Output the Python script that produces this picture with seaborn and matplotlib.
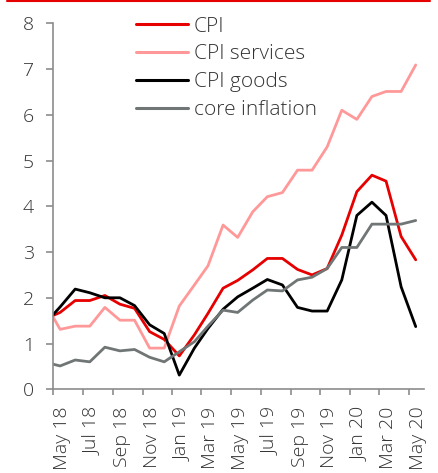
import pandas as pd
import matplotlib
matplotlib.use("Agg")
import matplotlib.pyplot as plt
import matplotlib.dates as mdates
from matplotlib.lines import Line2D
import seaborn as sns

# monthly readings, Apr 18 .. May 20 (Apr 18 is clipped by the axis)
months = pd.date_range("2018-04-01", "2020-05-01", freq="MS") + pd.Timedelta(days=14)

cpi = [1.54, 1.68, 1.94, 1.94, 2.05, 1.86, 1.77, 1.26, 1.09, 0.73, 1.19, 1.66, 2.21,
       2.38, 2.61, 2.86, 2.86, 2.62, 2.50, 2.64, 3.37, 4.32, 4.68, 4.55, 3.34, 2.83]
cpi_services = [1.87, 1.31, 1.38, 1.38, 1.79, 1.51, 1.51, 0.90, 0.90, 1.82, 2.28, 2.70, 3.59,
                3.32, 3.88, 4.21, 4.30, 4.79, 4.79, 5.30, 6.10, 5.90, 6.40, 6.51, 6.51, 7.09]
cpi_goods = [1.45, 1.80, 2.19, 2.11, 2.00, 2.00, 1.83, 1.41, 1.22, 0.31, 0.90, 1.33, 1.75,
             2.02, 2.21, 2.40, 2.28, 1.79, 1.71, 1.71, 2.39, 3.80, 4.09, 3.80, 2.24, 1.37]
core = [0.59, 0.51, 0.64, 0.60, 0.92, 0.84, 0.87, 0.70, 0.60, 0.82, 1.04, 1.38, 1.73,
        1.68, 1.95, 2.17, 2.15, 2.39, 2.45, 2.64, 3.10, 3.10, 3.61, 3.61, 3.61, 3.69]

series_names = ["CPI", "CPI services", "CPI goods", "core inflation"]
colors = ["#e60000", "#ff9999", "#000000", "#707575"]

df = pd.DataFrame({"date": months, "CPI": cpi, "CPI services": cpi_services,
                   "CPI goods": cpi_goods, "core inflation": core})
long = df.melt(id_vars="date", var_name="series", value_name="value")

sns.set_style("white")
plt.rcParams["font.family"] = ["Open Sans", "DejaVu Sans"]
plt.rcParams["font.weight"] = "light"

fig = plt.figure(figsize=(4.38, 4.73), dpi=100)
ax = fig.add_axes([0.1217, 0.177, 0.8463, 0.7737])

sns.lineplot(data=long, x="date", y="value", hue="series", hue_order=series_names,
             palette=colors, linewidth=2.0, ax=ax)

ax.set_xlim(pd.Timestamp("2018-05-01"), pd.Timestamp("2020-06-01"))
ax.set_ylim(0, 8)
ax.set_yticks(range(0, 9))
ax.xaxis.set_major_locator(mdates.MonthLocator(bymonth=[1, 3, 5, 7, 9, 11]))
ax.xaxis.set_major_formatter(mdates.DateFormatter("%b %y"))
ax.set_xlabel("")
ax.set_ylabel("")

sns.despine(ax=ax)
for side in ["left", "bottom"]:
    ax.spines[side].set_color("#8c8c8c")
    ax.spines[side].set_linewidth(1.2)
ax.tick_params(axis="y", which="major", direction="out", length=5, width=1.2,
               color="#8c8c8c", labelsize=14, labelcolor="#333333", pad=9, left=True)
ax.tick_params(axis="x", which="major", direction="out", length=4.5, width=1.2,
               color="#8c8c8c", labelsize=14, labelcolor="#333333", pad=8, bottom=True)
for lab in ax.get_xticklabels():
    lab.set_rotation(90)
    lab.set_ha("left")
    lab.set_rotation_mode("default")

leg = ax.legend(loc="upper left", bbox_to_anchor=(0.222, 1.018), frameon=False,
                fontsize=15, handlelength=2.5, handletextpad=0.28,
                labelspacing=0.37, borderpad=0, borderaxespad=0)
for t in leg.get_texts():
    t.set_color("#333333")
for h in leg.get_lines():
    h.set_linewidth(2.2)

fig.add_artist(Line2D([7 / 438, 430 / 438], [1 - 1 / 473, 1 - 1 / 473],
                      transform=fig.transFigure, color="#e60000", linewidth=1.5))

fig.savefig("out.png", dpi=100)
